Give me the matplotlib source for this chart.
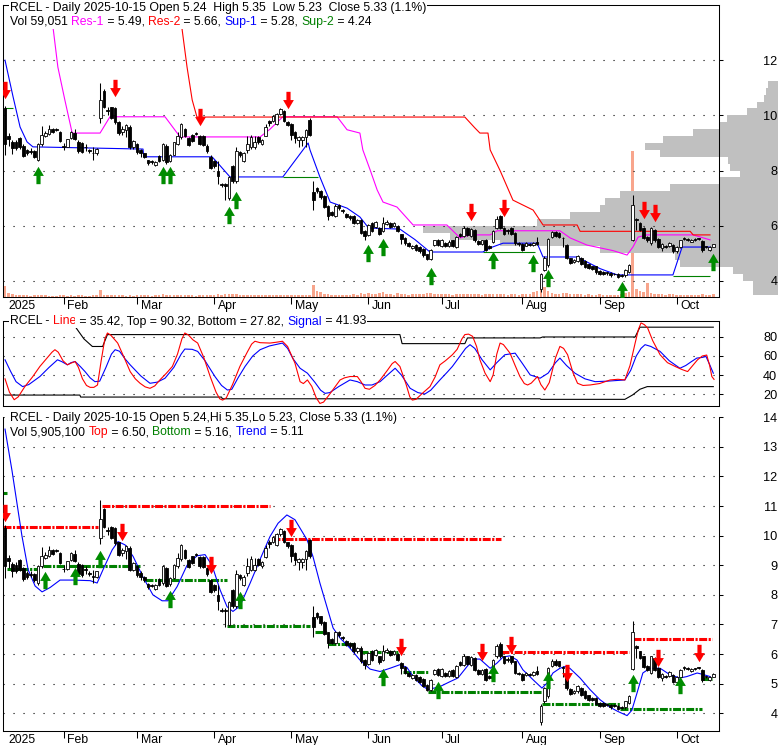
import numpy as np
import matplotlib
matplotlib.use("Agg")
import matplotlib.pyplot as plt
from matplotlib.path import Path

plt.rcParams['font.family'] = ['Liberation Sans', 'DejaVu Sans']

# ---------------- data ----------------
month_pos = [0, 16, 36, 57, 78, 99, 119, 141, 162, 183]
month_lbl = ['2025', 'Feb', 'Mar', 'Apr', 'May', 'Jun', 'Jul', 'Aug', 'Sep', 'Oct']

opens = [10.25, 9.24, 9.04, 9.02, 9.18, 8.90, 8.73, 8.72, 8.70, 8.40,
         8.96, 9.24, 9.32, 9.52, 9.50, 9.41, 8.88, 8.87, 9.18, 9.38,
         9.05, 9.00, 8.86, 8.73, 8.64, 8.62, 9.92, 10.90, 10.17, 10.29,
         10.25, 9.77, 9.41, 9.47, 9.58, 8.85, 8.96, 8.73, 8.62, 8.37,
         8.33, 8.20, 8.53, 8.40, 8.90, 8.36, 8.57, 8.96, 9.21, 9.52,
         9.18, 9.30, 9.36, 9.27, 9.27, 8.90, 8.51, 8.34, 8.00, 7.48,
         7.50, 6.99, 8.17, 7.61, 8.68, 8.34, 8.73, 8.85, 8.85, 9.21,
         8.96, 9.27, 9.80, 9.80, 9.69, 10.05, 10.16, 9.77, 9.69, 9.41,
         9.10, 9.10, 9.21, 9.84, 7.24, 7.38, 7.27, 7.07, 6.73, 6.50,
         6.37, 6.74, 6.55, 6.43, 6.37, 6.37, 6.09, 6.22, 5.80, 5.66,
         6.11, 5.97, 5.92, 5.80, 6.06, 6.11, 6.00, 6.00, 5.69, 5.55,
         5.36, 5.19, 5.30, 5.24, 5.15, 4.96, 4.79, 5.32, 5.49, 5.27,
         5.36, 5.27, 5.47, 5.22, 5.72, 5.64, 5.92, 5.64, 5.86, 5.45,
         5.33, 5.49, 5.27, 5.41, 5.92, 6.35, 5.92, 5.82, 5.92, 5.75,
         5.35, 5.33, 5.28, 5.31, 5.30, 5.43, 3.72, 4.40, 4.57, 5.58,
         5.78, 5.75, 5.56, 5.32, 4.82, 4.68, 4.74, 4.85, 4.74, 4.60,
         4.53, 4.53, 4.36, 4.34, 4.29, 4.28, 4.26, 4.25, 4.20, 4.20,
         4.34, 5.49, 6.26, 6.09, 5.92, 5.60, 5.36, 5.86, 5.52, 5.19,
         5.25, 5.27, 5.30, 5.07, 5.24, 5.53, 5.51, 5.42, 5.50, 5.53,
         5.45, 5.23, 5.13, 5.24]
highs = [10.35, 9.35, 9.10, 9.10, 9.22, 8.95, 8.80, 8.82, 8.75, 9.00,
         9.62, 9.45, 9.65, 9.56, 9.55, 9.45, 9.00, 9.15, 9.45, 9.50,
         9.10, 9.05, 8.97, 8.80, 8.85, 8.82, 11.19, 10.95, 10.31, 10.32,
         10.30, 9.80, 9.60, 9.70, 9.65, 9.10, 9.00, 8.80, 8.65, 8.40,
         8.38, 8.36, 8.56, 9.00, 8.95, 8.60, 9.05, 9.41, 9.72, 9.55,
         9.22, 9.33, 9.40, 9.30, 9.30, 8.95, 8.55, 8.37, 8.34, 7.55,
         7.55, 7.80, 8.20, 8.85, 8.72, 8.66, 9.24, 9.30, 9.24, 9.25,
         9.13, 9.69, 9.85, 10.00, 10.10, 10.25, 10.20, 9.80, 9.72, 9.45,
         9.25, 9.25, 9.50, 9.90, 7.63, 7.42, 7.30, 7.10, 6.76, 6.53,
         6.78, 6.78, 6.60, 6.48, 6.40, 6.40, 6.25, 6.26, 5.83, 6.06,
         6.15, 6.17, 5.95, 6.31, 6.20, 6.14, 6.14, 6.03, 5.72, 5.58,
         5.40, 5.32, 5.33, 5.27, 5.18, 4.99, 5.16, 5.50, 5.52, 5.52,
         5.40, 5.47, 5.50, 5.63, 5.75, 6.00, 5.95, 5.92, 5.90, 5.48,
         5.50, 5.52, 5.30, 5.83, 6.35, 6.40, 5.95, 5.90, 5.95, 5.78,
         5.40, 5.36, 5.40, 5.36, 5.42, 5.60, 4.30, 4.90, 5.55, 5.82,
         5.82, 5.78, 5.60, 5.35, 4.85, 4.80, 4.95, 4.88, 4.77, 4.63,
         4.56, 4.56, 4.39, 4.37, 4.33, 4.31, 4.30, 4.28, 4.24, 4.43,
         4.60, 7.10, 6.30, 6.12, 5.95, 5.63, 5.95, 5.90, 5.55, 5.36,
         5.30, 5.42, 5.33, 5.27, 5.50, 5.60, 5.56, 5.52, 5.54, 5.57,
         5.48, 5.27, 5.27, 5.35]
lows = [8.57, 8.90, 8.60, 8.75, 8.80, 8.48, 8.55, 8.60, 8.45, 8.35,
        8.90, 9.20, 9.28, 9.35, 9.45, 9.05, 8.76, 8.85, 9.15, 9.10,
        8.65, 8.62, 8.72, 8.65, 8.40, 8.58, 9.73, 10.25, 10.03, 9.88,
        9.70, 9.30, 9.30, 9.20, 8.80, 8.80, 8.60, 8.50, 8.45, 8.20,
        8.25, 8.15, 8.30, 8.35, 8.25, 8.30, 8.55, 8.92, 9.15, 9.20,
        8.90, 9.03, 9.30, 8.92, 8.90, 8.65, 8.05, 8.10, 7.50, 7.42,
        6.93, 6.95, 7.55, 7.55, 8.50, 8.30, 8.64, 8.80, 8.80, 8.98,
        8.92, 9.25, 9.60, 9.75, 9.65, 10.00, 9.75, 9.60, 9.10, 9.00,
        8.85, 8.90, 8.85, 9.25, 6.59, 7.20, 6.98, 6.63, 6.20, 6.35,
        6.33, 6.58, 6.48, 6.27, 6.22, 6.05, 6.05, 5.70, 5.50, 5.62,
        5.76, 5.93, 5.68, 5.76, 6.02, 5.93, 5.97, 5.76, 5.33, 5.32,
        5.22, 5.15, 5.10, 5.03, 4.88, 4.75, 4.76, 5.28, 5.26, 5.24,
        5.23, 5.23, 5.23, 5.19, 5.60, 5.60, 5.62, 5.60, 5.43, 5.30,
        5.30, 5.08, 5.15, 5.38, 5.88, 5.88, 5.65, 5.72, 5.68, 5.32,
        5.28, 5.08, 5.25, 5.27, 5.27, 5.30, 3.60, 4.35, 4.50, 5.55,
        5.60, 5.55, 5.24, 4.80, 4.62, 4.65, 4.70, 4.58, 4.47, 4.42,
        4.41, 4.27, 4.21, 4.21, 4.23, 4.16, 4.20, 4.10, 4.14, 4.16,
        4.30, 5.45, 5.86, 5.82, 5.52, 5.43, 5.32, 5.43, 5.20, 5.10,
        5.20, 5.24, 5.03, 5.03, 5.20, 5.47, 5.45, 5.40, 5.46, 5.49,
        5.06, 5.18, 5.10, 5.23]
closes = [8.96, 9.13, 8.81, 8.81, 8.85, 8.53, 8.62, 8.68, 8.51, 8.96,
          9.30, 9.35, 9.52, 9.39, 9.48, 9.07, 8.86, 9.13, 9.41, 9.13,
          8.70, 8.68, 8.84, 8.71, 8.62, 8.79, 10.56, 10.31, 10.15, 9.92,
          9.75, 9.35, 9.52, 9.64, 8.85, 9.07, 8.68, 8.62, 8.51, 8.26,
          8.31, 8.32, 8.34, 8.96, 8.31, 8.57, 9.02, 9.24, 9.68, 9.26,
          8.94, 9.07, 9.34, 8.96, 8.94, 8.70, 8.11, 8.17, 7.80, 7.47,
          7.44, 7.75, 7.61, 8.70, 8.57, 8.62, 8.96, 9.21, 9.02, 9.02,
          9.10, 9.58, 9.72, 9.97, 10.06, 10.22, 9.80, 9.66, 9.30, 9.18,
          9.21, 9.21, 9.47, 9.30, 6.93, 7.25, 7.05, 6.68, 6.37, 6.39,
          6.73, 6.63, 6.53, 6.31, 6.28, 6.09, 6.22, 5.75, 5.64, 6.03,
          5.80, 6.14, 5.72, 6.09, 6.14, 5.97, 6.09, 5.80, 5.52, 5.36,
          5.27, 5.28, 5.13, 5.07, 4.93, 4.79, 5.13, 5.47, 5.30, 5.49,
          5.27, 5.43, 5.27, 5.60, 5.64, 5.92, 5.66, 5.89, 5.47, 5.33,
          5.47, 5.13, 5.19, 5.80, 6.26, 5.92, 5.69, 5.80, 5.72, 5.36,
          5.33, 5.13, 5.36, 5.30, 5.38, 5.33, 4.25, 4.85, 5.52, 5.78,
          5.64, 5.58, 5.54, 4.85, 4.66, 4.76, 4.91, 4.62, 4.51, 4.46,
          4.45, 4.31, 4.25, 4.25, 4.28, 4.20, 4.24, 4.14, 4.19, 4.40,
          4.57, 6.74, 6.20, 5.86, 5.56, 5.47, 5.92, 5.47, 5.24, 5.33,
          5.24, 5.39, 5.07, 5.24, 5.47, 5.52, 5.49, 5.49, 5.49, 5.52,
          5.11, 5.22, 5.24, 5.33]
volume_k = [225, 80, 60, 45, 40, 45, 35, 30, 40, 45,
            35, 40, 30, 30, 25, 35, 40, 30, 35, 30,
            40, 35, 30, 30, 35, 45, 145, 50, 35, 40,
            45, 40, 35, 30, 40, 30, 35, 40, 45, 35,
            30, 40, 45, 60, 50, 40, 45, 50, 45, 40,
            35, 40, 30, 35, 40, 45, 40, 45, 60, 50,
            55, 60, 55, 70, 50, 45, 40, 45, 40, 35,
            35, 45, 40, 40, 45, 40, 35, 40, 45, 35,
            40, 35, 45, 50, 250, 120, 100, 70, 60, 50,
            50, 45, 40, 45, 40, 55, 45, 80, 70, 75,
            70, 60, 75, 100, 60, 55, 50, 80, 65, 55,
            45, 60, 55, 60, 70, 75, 85, 70, 60, 65,
            55, 60, 50, 70, 60, 65, 60, 55, 70, 55,
            50, 60, 55, 65, 70, 60, 55, 50, 60, 55,
            50, 55, 60, 70, 100, 120, 290, 200, 130, 90,
            70, 65, 80, 75, 60, 55, 60, 55, 50, 55,
            45, 50, 55, 45, 40, 45, 50, 45, 55, 80,
            110, 3010, 160, 120, 100, 290, 90, 70, 60, 55,
            50, 60, 55, 45, 50, 40, 45, 40, 45, 50,
            60, 45, 40, 55]

# volume-at-price profile (right side of price panel)
prof_price = [3.625, 3.875, 4.125, 4.375, 4.625, 4.875, 5.125, 5.375, 5.625, 5.875,
              6.125, 6.375, 6.625, 6.875, 7.125, 7.375, 7.625, 7.875, 8.125, 8.375,
              8.625, 8.875, 9.125, 9.375, 9.625, 9.875, 10.125, 10.375, 10.625, 10.875,
              11.125]
prof_vol = [25, 25, 35, 45, 98, 103, 178, 278, 328, 355,
            241, 208, 178, 173, 158, 108, 58, 38, 48, 50,
            118, 133, 115, 85, 58, 51, 31, 21, 14, 12,
            10]

# support / resistance lines (price panel)
sup1_x = [0, 2.2, 4.1, 6.0, 7.6, 37.6, 37.8, 56.4, 58.0, 61.3, 75.7, 78.5, 81.2, 82.6, 83.1,
          85.8, 88.6, 93.2, 96.7, 98.6, 99.0, 107.6, 111.7, 115.8, 130.2, 132.2, 135.7, 145.0,
          146.6, 155.9, 162.1, 166.8, 182.0, 184.5, 192.1]
sup1_y = [12.0, 10.67, 9.58, 9.04, 8.86, 8.78, 8.5, 8.5, 8.27, 7.77, 7.77, 8.27, 8.75, 9.0, 8.75,
          7.77, 6.86, 6.64, 6.32, 6.0, 5.92, 5.88, 5.5, 5.05, 5.05, 5.2, 5.37, 5.37,
          4.87, 4.87, 4.45, 4.22, 4.22, 5.23, 5.23]
sup2_start = [0, 75.7, 130.2, 182.0]
sup2_end = [2.2, 85.3, 144.4, 192.1]
sup2_level = [10.27, 7.77, 5.05, 4.18]
res1_x = [13.1, 14.4, 16.3, 18.3, 25.9, 28.6, 43.6, 47.7, 69.5, 72.2, 75.7, 90.5, 93.2, 96.7,
          97.3, 97.5, 99.5, 101.4, 103.0, 106.8, 111.2, 120.4, 124.0, 126.7, 132.2, 134.1,
          151.2, 154.0, 158.6, 165.7, 169.5, 171.1, 172.5, 174.9, 187.5, 192.1]
res1_y = [13.17, 11.75, 10.56, 9.36, 9.36, 9.95, 9.95, 9.22, 9.22, 9.5, 9.95, 9.95, 9.48, 9.36,
          8.9, 8.75, 8.02, 7.3, 6.86, 6.68, 6.03, 6.03, 5.56, 5.67, 5.67, 5.82,
          5.82, 5.56, 5.3, 5.1, 4.94, 5.23, 5.59, 5.67, 5.67, 5.49]
res2_x = [48.2, 49.6, 51.0, 52.3, 125.3, 128.0, 129.4, 131.6, 132.2, 134.9, 138.4, 143.9,
          146.6, 155.9, 156.7, 186.7, 187.5, 192.1]
res2_y = [13.17, 11.75, 10.56, 9.94, 9.94, 9.55, 9.36, 9.36, 8.75, 8.0, 6.93, 6.57,
          6.03, 6.03, 5.8, 5.8, 5.67, 5.67]

top_dn_x = [0, 30, 53, 77, 127, 136, 174, 177]
top_dn_y = [10.92, 10.99, 9.94, 10.56, 6.5, 6.64, 6.57, 6.46]
top_up_x = [9, 43, 45, 61, 63, 99, 103, 116, 133, 144, 148, 168, 193]
top_up_y = [7.84, 7.84, 7.84, 6.39, 6.93, 5.01, 5.23, 4.18, 4.76, 4.65, 4.11, 3.67, 4.69]

# oscillator panel (readings along the curves)
osc_line_x = [0, 1.2, 2.5, 3.6, 5.4, 7.5, 9.5, 11.5, 12.8, 13.6, 14.5, 15.8, 17.0, 18.0, 19.1,
              20.0, 21.1, 22.2, 23.2, 24.2, 25.2, 26.2, 27.2, 27.9, 28.8, 30.7, 32.5, 34.1,
              35.5, 36.8, 38.2, 39.5, 40.8, 42.2, 44.0, 45.6, 47.0, 48.2, 49.0, 50.0, 51.2,
              52.5, 54.2, 55.9, 57.5, 58.5, 59.3, 60.3, 62.0, 64.0, 66.0, 67.2, 68.1, 69.5,
              72.2, 74.0, 75.6, 77.0, 79.0, 80.4, 81.3, 82.4, 83.6, 84.8, 85.8, 86.8, 88.5,
              91.3, 92.5, 94.0, 96.0, 97.0, 98.1, 99.3, 100.8, 102.2, 104.2, 105.5, 106.3,
              107.6, 109.3, 110.3, 111.0, 112.0, 113.8, 115.8, 117.2, 118.5, 120.0, 121.9,
              123.2, 124.5, 125.3, 126.3, 127.4, 128.5, 129.4, 130.8, 132.2, 133.0, 134.0,
              134.9, 135.8, 137.6, 139.0, 140.3, 141.5, 142.4, 143.4, 145.1, 146.0, 147.1,
              148.3, 150.0, 151.2, 152.2, 153.3, 154.8, 156.0, 157.5, 159.4, 162.0, 164.9,
              167.0, 168.9, 170.3, 171.7, 172.6, 173.3, 174.2, 175.1, 176.5, 178.5, 180.5,
              182.6, 184.3, 186.0, 187.4, 188.7, 190.0, 191.2, 192.0, 192.6, 193.2]
osc_line_y = [36.0, 22.0, 14.0, 17.0, 27.8, 38.0, 49.0, 58.0, 64.0, 66.6, 64.0, 55.0, 50.7, 52.5, 54.2,
              48.0, 36.0, 29.0, 27.0, 27.0, 29.5, 55.0, 78.0, 84.2, 82.0, 73.6, 58.0, 43.6,
              36.0, 31.3, 27.5, 26.0, 28.5, 34.8, 42.0, 49.0, 62.0, 78.0, 84.2, 82.0, 77.0,
              73.6, 58.0, 38.4, 22.0, 15.0, 13.6, 16.0, 30.0, 49.0, 64.0, 72.5, 75.5, 74.0,
              73.6, 74.5, 75.5, 70.0, 52.5, 33.0, 31.0, 34.8, 28.0, 16.0, 10.1, 11.5, 20.0,
              34.8, 37.0, 38.4, 38.4, 33.0, 26.0, 25.0, 29.0, 34.8, 45.0, 52.0, 54.2,
              49.0, 30.0, 17.0, 13.6, 14.5, 21.0, 27.8, 38.0, 50.7, 55.0, 61.3,
              67.0, 78.0, 82.5, 83.0, 80.7, 70.0, 56.0, 42.0, 33.0, 40.0, 62.0,
              73.6, 72.0, 63.0, 50.0, 38.4, 31.0, 29.5, 31.5, 38.4, 30.0, 24.2,
              32.0, 58.0, 70.1, 68.0, 61.3, 42.0, 31.3, 29.0, 29.5, 31.0, 34.8,
              35.5, 34.8, 50.0, 73.6, 88.0, 94.8, 93.0, 89.5, 76.0, 61.3, 53.0,
              49.0, 46.0, 43.6, 50.0, 56.0, 60.0, 61.0, 50.0, 38.4, 35.4]
osc_sig_x = [0, 1.5, 3.0, 4.8, 6.5, 9.5, 12.0, 14.3, 15.5, 17.0, 18.0, 19.1, 20.5, 21.8, 23.2,
             24.5, 25.8, 27.5, 29.0, 30.0, 31.2, 32.7, 34.1, 37.0, 39.5, 41.5, 43.6, 46.0,
             48.0, 49.0, 51.0, 52.5, 54.5, 57.2, 59.0, 60.6, 61.8, 63.5, 65.4, 67.5, 69.5,
             72.0, 75.6, 77.0, 78.5, 80.4, 82.4, 84.5, 86.0, 87.2, 88.5, 91.0, 94.0, 96.0,
             98.1, 100.0, 102.2, 104.5, 106.3, 108.0, 110.4, 112.5, 114.4, 116.0, 118.5,
             120.5, 121.9, 124.0, 125.5, 126.7, 128.0, 130.0, 132.2, 134.0, 136.2, 139.0,
             141.0, 143.1, 145.8, 148.0, 150.0, 151.2, 153.0, 155.3, 158.0, 160.8, 164.0,
             168.9, 170.5, 172.0, 173.3, 174.4, 176.0, 178.5, 181.0, 183.9, 185.5, 187.0,
             188.5, 190.0, 191.0, 192.0, 193.0]
osc_sig_y = [56.0, 44.0, 33.0, 27.8, 30.0, 38.4, 48.0, 56.0, 54.0, 50.7, 53.0, 54.2, 49.0, 43.6, 37.0,
             33.0, 33.5, 48.0, 62.0, 66.6, 65.0, 57.0, 50.7, 39.0, 31.3, 32.5, 36.6, 48.0,
             62.0, 67.3, 67.0, 64.8, 55.0, 38.4, 29.0, 24.2, 25.0, 37.0, 49.0, 60.0, 66.6,
             70.5, 73.6, 68.0, 57.0, 47.1, 41.9, 32.0, 24.0, 20.7, 21.5, 28.0, 34.8, 33.0,
             29.5, 29.5, 33.0, 41.0, 47.1, 40.0, 26.0, 21.5, 20.0, 24.0, 34.8,
             43.0, 49.0, 60.0, 68.0, 71.9, 68.0, 56.0, 45.4, 53.0, 61.3, 63.0,
             52.0, 40.1, 36.6, 42.0, 53.0, 57.8, 50.0, 41.9, 36.0, 33.0, 33.5,
             34.8, 45.0, 60.0, 68.0, 71.9, 70.0, 64.8, 55.0, 47.1, 50.0, 54.0,
             57.8, 58.5, 59.5, 51.0, 41.9]
osc_top_x = [19.1, 21.5, 23.8, 26.6, 27.9, 107.6, 108.2, 125.3, 126.0, 145.8, 146.5, 171.7, 173.0, 193.0]
osc_top_y = [91.0, 78.0, 70.0, 70.0, 82.5, 82.5, 73.0, 73.0, 79.0, 79.0, 80.0, 80.0, 90.3, 90.3]
osc_bot_x = [0, 20.4, 20.6, 59.0, 59.2, 145.8, 146.0, 168.9, 171.0, 173.0, 175.0, 193.0]
osc_bot_y = [18.9, 18.9, 16.8, 16.8, 15.0, 15.0, 14.4, 14.4, 19.0, 25.0, 27.8, 27.8]

# lower panel: trend line and top/bottom levels
trend_x = [0, 1.9, 4.6, 6.3, 8.2, 10.1, 12.3, 15.0, 18.5, 23.2, 25.1, 26.7, 29.2, 30.8, 32.7,
           34.9, 37.6, 40.3, 42.8, 44.4, 46.9, 49.6, 52.3, 54.5, 56.4, 58.6, 60.5, 62.1, 64.0,
           66.8, 69.5, 72.2, 74.4, 76.8, 79.0, 82.3, 83.9, 85.8, 87.7, 89.4, 91.3, 94.0, 96.7,
           99.5, 102.2, 104.9, 107.6, 109.5, 111.2, 113.6, 115.3, 118.5, 121.3, 123.4, 125.9,
           127.5, 129.4, 132.2, 134.1, 135.7, 137.6, 139.5, 141.1, 143.9, 146.3, 147.7, 149.3,
           151.2, 152.6, 153.9, 156.7, 159.4, 162.1, 164.9, 167.0, 169.5, 170.8, 172.2, 173.8,
           175.7, 178.5, 181.2, 183.9, 185.8, 188.6, 189.9, 192.1]
trend_y = [13.6, 12.2, 10.0, 8.85, 8.3, 8.1, 8.25, 8.5, 8.5, 8.48, 8.4, 8.85, 9.52, 9.8, 9.69,
           9.3, 8.6, 8.0, 7.8, 7.8, 8.28, 9.0, 9.32, 9.36, 9.0, 8.17, 7.6, 7.44, 7.62,
           8.4, 9.2, 9.97, 10.42, 10.7, 10.54, 9.86, 9.3, 8.4, 7.6, 6.88, 6.54, 6.2, 5.8,
           5.49, 5.41, 5.52, 5.64, 5.55, 5.24, 4.93, 4.8, 4.9, 5.07, 5.19, 5.58,
           5.83, 5.83, 5.52, 5.7, 5.9, 5.94, 5.8, 5.47, 5.13, 4.85, 5.02, 5.36,
           5.52, 5.58, 5.52, 5.19, 4.8, 4.46, 4.2, 4.06, 3.92, 4.1, 4.68, 5.36,
           5.52, 5.52, 5.3, 5.19, 5.24, 5.36, 5.32, 5.24]
top_start = [-0.5, 26.4, 72.8, 135.1, 171.1]
top_end = [25.3, 72.2, 135.1, 170.0, 192.6]
top_level = [10.28, 11.0, 9.89, 6.06, 6.5]
bot_start = [-0.5, 0.5, 10.4, 38.1, 60.5, 84.5, 88.0, 96.7, 108.4, 115.3, 146.3, 167.6, 189.9]
bot_end = [0.6, 8.7, 36.8, 60.5, 83.1, 88.0, 94.8, 107.1, 115.3, 146.3, 167.6, 189.9, 192.6]
bot_level = [11.45, 8.88, 8.97, 8.5, 6.95, 6.75, 6.35, 6.08, 5.4, 4.72, 4.31, 4.14, 5.16]

bot_dn_x = [0, 32, 56, 78, 108, 130, 138, 153, 178, 189]
bot_dn_y = [10.77, 10.12, 9.0, 10.26, 6.24, 6.07, 6.31, 5.36, 5.87, 6.04]
bot_up_x = [11, 19, 26, 45, 64, 103, 118, 133, 148, 171, 184]
bot_up_y = [8.5, 8.64, 9.21, 7.86, 7.83, 5.23, 4.79, 5.36, 5.12, 5.02, 4.96]

# ---------------- styles ----------------
W, H = 780, 745
MAG = '#ff00ff'
RED = '#ff0000'
BLUE = '#0000ff'
GREEN = '#008000'
ARROW_GREEN = '#008c00'
SALMON = '#f8a58c'
GRAY = '#c0c0c0'
FS = 8.8
XL = (-0.55, 194.55)
DASHDOT = (0, (2.6, 0.5, 0.7, 0.5))

up_arrow = Path([(-0.24, -1), (0.24, -1), (0.24, -0.05), (0.62, -0.05), (0, 1),
                 (-0.62, -0.05), (-0.24, -0.05), (-0.24, -1)], closed=True)
dn_arrow = Path([(x, -y) for x, y in up_arrow.vertices], closed=True)

x_idx = np.arange(len(closes))

fig = plt.figure(figsize=(7.8, 7.45), dpi=100)


def rect(top, bottom):
    return [3 / W, (H - bottom) / H, 716 / W, (bottom - top) / H]


def style_axes(ax, yticks, ylim):
    ax.set_xlim(*XL)
    ax.set_ylim(*ylim)
    ax.set_yticks(yticks)
    ax.yaxis.tick_right()
    ax.tick_params(axis='y', direction='out', length=3, width=0.75, pad=39, labelsize=9.2)
    for t in ax.get_yticklabels():
        t.set_ha('right')
    ax.grid(axis='y', linestyle=(0, (1, 8)), color='black', linewidth=0.8)
    for s in ax.spines.values():
        s.set_linewidth(0.75)


def month_axis(ax):
    ax.set_xticks(month_pos[1:])
    ax.set_xticklabels([])
    ax.tick_params(axis='x', direction='out', length=5, width=0.75)
    for p, lbl in zip(month_pos, month_lbl):
        ax.annotate(lbl, xy=(p, 0), xycoords=('data', 'axes fraction'), xytext=(2.5, -2.2),
                    textcoords='offset points', ha='left', va='top', fontsize=FS,
                    annotation_clip=False)


def candles(ax):
    o = np.array(opens)
    c = np.array(closes)
    ax.vlines(x_idx, lows, highs, color='black', linewidth=0.75, zorder=3)
    lo = np.minimum(o, c)
    hgt = np.maximum(np.abs(c - o), 0.03)
    up = c > o
    ax.bar(x_idx[up], hgt[up], bottom=lo[up], width=0.72, facecolor='white',
           edgecolor='black', linewidth=0.6, zorder=4)
    ax.bar(x_idx[~up], hgt[~up], bottom=lo[~up], width=0.72, facecolor='black',
           edgecolor='black', linewidth=0.6, zorder=4)


def arrows(ax, ux, uy, dx, dy):
    ax.plot(ux, uy, linestyle='none', marker=up_arrow, markersize=12.5,
            color=ARROW_GREEN, markeredgewidth=0, zorder=6)
    ax.plot(dx, dy, linestyle='none', marker=dn_arrow, markersize=12.5,
            color=RED, markeredgewidth=0, zorder=6)


def title_line(ax, x_px, bottom_px, parts):
    box = dict(boxstyle='square,pad=0.05', fc='white', ec='none')
    t = ax.text(x_px / W, 1 - bottom_px / H, parts[0][0], color=parts[0][1],
                transform=fig.transFigure, fontsize=FS, ha='left', va='bottom',
                bbox=box, zorder=10)
    for s, col in parts[1:]:
        t = ax.annotate(s, xy=(1, 0), xycoords=t, ha='left', va='bottom', color=col,
                        fontsize=FS, bbox=box, zorder=10, annotation_clip=False)


# ---------------- price panel ----------------
vax = fig.add_axes(rect(5, 297), zorder=0)
vax.bar(x_idx, volume_k, width=0.7, color=SALMON, linewidth=0)
vax.set_xlim(*XL)
vax.set_ylim(0, 6000)
vax.axis('off')

ax1 = fig.add_axes(rect(5, 297), zorder=1)
ax1.patch.set_alpha(0)
ax1.barh(prof_price, [-v / 3.67 for v in prof_vol], left=210.6, height=0.25,
         color=GRAY, linewidth=0, clip_on=False, zorder=1)
ax1.plot(sup1_x, sup1_y, color=BLUE, lw=0.8, zorder=2)
ax1.hlines(sup2_level, sup2_start, sup2_end, color=GREEN, lw=0.8, zorder=2)
ax1.plot(res1_x, res1_y, color=MAG, lw=0.8, zorder=2)
ax1.plot(res2_x, res2_y, color=RED, lw=0.8, zorder=2)
candles(ax1)
arrows(ax1, top_up_x, top_up_y, top_dn_x, top_dn_y)
style_axes(ax1, [4, 6, 8, 10, 12], (3.42, 14.0))
month_axis(ax1)

title_line(ax1, 10, 14, [("RCEL - Daily 2025-10-15 Open 5.24  High 5.35  Low 5.23  Close 5.33 (1.1%)", 'black')])
title_line(ax1, 10, 28, [("Vol 59,051 ", 'black'), ("Res-1", MAG), (" = 5.49, ", 'black'),
                         ("Res-2", RED), (" = 5.66, ", 'black'), ("Sup-1", BLUE),
                         (" = 5.28, ", 'black'), ("Sup-2", GREEN), (" = 4.24", 'black')])

# ---------------- oscillator panel ----------------
ax2 = fig.add_axes(rect(321, 406))
ax2.plot(osc_top_x, osc_top_y, color='black', lw=0.8)
ax2.plot(osc_bot_x, osc_bot_y, color='black', lw=0.8)
ax2.plot(osc_sig_x, osc_sig_y, color=BLUE, lw=0.8)
ax2.plot(osc_line_x, osc_line_y, color=RED, lw=0.8)
style_axes(ax2, [20, 40, 60, 80], (7.4, 96.8))
ax2.set_xticks([])
title_line(ax2, 10, 327.5, [("RCEL - ", 'black'), ("Line", RED),
                            (" = 35.42, Top = 90.32, Bottom = 27.82, ", 'black'),
                            ("Signal", BLUE), (" = 41.93", 'black')])

# ---------------- lower price panel ----------------
ax3 = fig.add_axes(rect(417, 731))
ax3.hlines(top_level, top_start, top_end, color=RED, lw=2.2, linestyles=[DASHDOT], zorder=2)
ax3.hlines(bot_level, bot_start, bot_end, color=GREEN, lw=2.2, linestyles=[DASHDOT], zorder=2)
ax3.plot(trend_x, trend_y, color=BLUE, lw=0.8, zorder=2.5)
candles(ax3)
arrows(ax3, bot_up_x, bot_up_y, bot_dn_x, bot_dn_y)
style_axes(ax3, [4, 5, 6, 7, 8, 9, 10, 11, 12, 13, 14], (3.40, 14.01))
ax3.spines['top'].set_visible(False)
month_axis(ax3)
title_line(ax3, 10, 424, [("RCEL - Daily 2025-10-15 Open 5.24,Hi 5.35,Lo 5.23, Close 5.33 (1.1%)", 'black')])
title_line(ax3, 10, 438.5, [("Vol 5,905,100 ", 'black'), ("Top", RED), (" = 6.50, ", 'black'),
                            ("Bottom", GREEN), (" = 5.16, ", 'black'), ("Trend", BLUE),
                            (" = 5.11", 'black')])

fig.savefig('out.png', dpi=100)
